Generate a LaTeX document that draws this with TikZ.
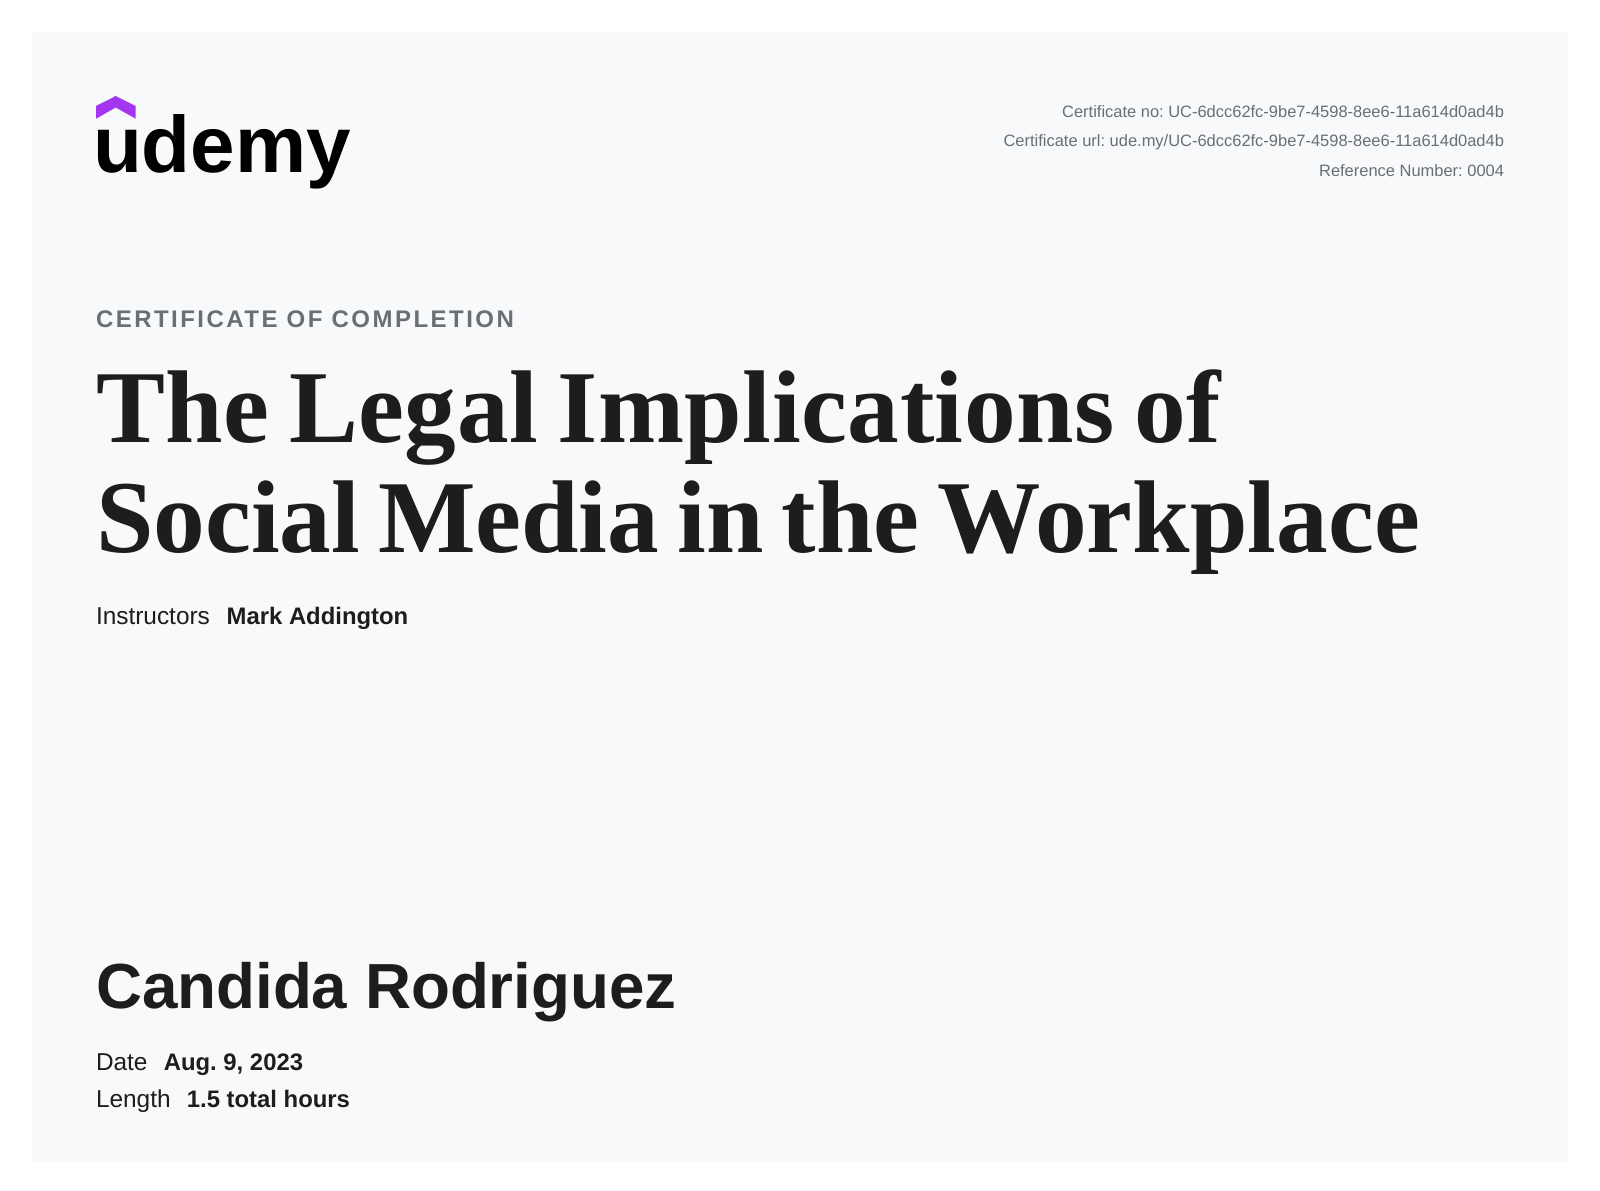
\documentclass[tikz,border=0pt]{standalone}
\usepackage{fontspec}
\setmainfont{Liberation Sans}
\newfontfamily\titlefonta[WordSpace=0.75,LetterSpace=0.5]{Liberation Serif}
\newfontfamily\titlefontb[WordSpace=0.7]{Liberation Serif}
\usepackage{xcolor}
\usetikzlibrary{positioning}
\definecolor{panelgray}{HTML}{F8F9FB}
\definecolor{inkdark}{HTML}{1C1D1F}
\definecolor{metagray}{HTML}{6A6F73}
\definecolor{logopurple}{HTML}{A435F0}
\frenchspacing
\begin{document}
\begin{tikzpicture}[
    x=0.75pt, y=-0.75pt,
    txt/.style={inner sep=0pt, outer sep=0pt, text=inkdark},
    meta/.style={txt, anchor=base east, text=metagray, font=\fontsize{12.35}{14}\selectfont},
    info/.style={txt, anchor=base west, font=\fontsize{18.3}{20}\selectfont},
    infobold/.style={txt, font=\fontsize{17.9}{20}\selectfont\bfseries},
    headline/.style={txt, anchor=base west, font=\fontsize{77.5}{80}\selectfont\bfseries}
]
\useasboundingbox (0,0) rectangle (1600,1190);
\fill[white] (0,0) rectangle (1600,1190);
\fill[panelgray] (32,32) rectangle (1568,1161.5);

% logo
\fill[logopurple] (96,118.7) -- (96,106) -- (115.7,96) -- (135.7,106) -- (135.7,118.7) -- (115.7,107.5) -- cycle;
\node[txt, anchor=base west, text=black, font=\fontsize{60}{62}\selectfont\bfseries] (logo) at (93,172) {udemy};

% certificate data
\node[meta] (certno) at (1504,117) {Certificate no: UC-6dcc62fc-9be7-4598-8ee6-11a614d0ad4b};
\node[meta] (certurl) at (1504,146) {Certificate url: ude.my/UC-6dcc62fc-9be7-4598-8ee6-11a614d0ad4b};
\node[meta] (refno) at (1504,176) {Reference Number: 0004};

% title block
\node[txt, anchor=base west, text=metagray, font=\fontsize{18}{20}\selectfont\bfseries] (kicker) at (96,327) {\addfontfeature{LetterSpace=10.3}CERTIFICATE OF COMPLETION};
\node[headline] (title1) at (96,442.5) {\titlefonta\bfseries The Legal Implications of};
\node[headline] (title2) at (96,552) {\titlefontb\bfseries Social Media in the Workplace};

\node[info] (instr) at (96,624) {Instructors};
\node[infobold, base right=12.6pt of instr] (instrname) {Mark Addington};

% recipient
\node[txt, anchor=base west, font=\fontsize{47.8}{50}\selectfont\bfseries] (student) at (96,1008) {Candida Rodriguez};
\node[info] (date) at (96,1070.6) {Date};
\node[infobold, base right=12.2pt of date] (dateval) {Aug. 9, 2023};
\node[info] (length) at (96,1107.6) {Length};
\node[infobold, base right=12.2pt of length] (lengthval) {1.5 total hours};
\end{tikzpicture}
\end{document}
